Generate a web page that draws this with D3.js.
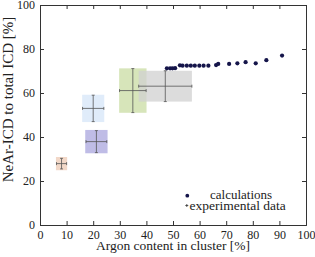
<!DOCTYPE html>
<html>
<head>
<script src="https://d3js.org/d3.v7.min.js"></script>
<style>
  body { margin: 0; background: white; }
  text { font-family: "Liberation Serif", serif; fill: #222; }
</style>
</head>
<body>
<script>
// calculations
var calcX = [47.7, 48.9, 49.8, 50.8, 52.6, 53.6, 55.2, 56.7, 58.2, 59.9, 61.5, 63.3, 66.2, 67.0, 71.1, 74.2, 77.3, 81.1, 85.1, 91.0];
var calcY = [71.2, 71.2, 71.2, 71.3, 72.6, 72.4, 72.4, 72.4, 72.4, 72.4, 72.4, 72.4, 72.7, 73.2, 73.2, 73.5, 74.0, 73.5, 74.9, 77.0];

// experimental data
var expX    = [8.1, 21.2, 20.0, 34.9, 47.1];
var expY    = [27.9, 37.9, 53.0, 61.1, 63.1];
var expXErr = [1.9, 3.9, 4.0, 5.0, 10.0];
var expYErr = [2.4, 5.0, 6.0, 10.0, 7.0];
var boxXHalf = [2.1, 4.2, 4.15, 5.15, 10.0];
var boxYHalf = [3.0, 5.3, 6.2, 10.1, 7.0];
var boxColors = ["#eecbb6", "#aaa5dd", "#d6e5f8", "#cadca3", "#d0d0d0"];

var xTicks = [0, 10, 20, 30, 40, 50, 60, 70, 80, 90, 100];
var yTicks = [0, 20, 40, 60, 80, 100];

var width = 315, height = 257;
var pLeft = 40, pRight = 306, pTop = 5, pBottom = 225;

var svg = d3.select("body").append("svg")
  .attr("width", width)
  .attr("height", height);

var x = d3.scaleLinear().domain([0, 100]).range([pLeft, pRight]);
var y = d3.scaleLinear().domain([0, 100]).range([pBottom, pTop]);

// boxes
var g = svg.append("g");
expX.forEach(function(v, i) {
  g.append("rect")
    .attr("x", x(v - boxXHalf[i]))
    .attr("y", y(expY[i] + boxYHalf[i]))
    .attr("width", x(v + boxXHalf[i]) - x(v - boxXHalf[i]))
    .attr("height", y(expY[i] - boxYHalf[i]) - y(expY[i] + boxYHalf[i]))
    .attr("fill", boxColors[i])
    .attr("fill-opacity", 0.75);
});

// error bars
var eb = svg.append("g").attr("stroke", "#555").attr("stroke-width", 0.8);
var cap = 1.5;
expX.forEach(function(v, i) {
  var cx = x(v), cy = y(expY[i]);
  var x0 = x(v - expXErr[i]), x1 = x(v + expXErr[i]);
  var y0 = y(expY[i] - expYErr[i]), y1 = y(expY[i] + expYErr[i]);
  eb.append("line").attr("x1", x0).attr("x2", x1).attr("y1", cy).attr("y2", cy);
  eb.append("line").attr("x1", cx).attr("x2", cx).attr("y1", y0).attr("y2", y1);
  eb.append("line").attr("x1", x0).attr("x2", x0).attr("y1", cy - cap).attr("y2", cy + cap);
  eb.append("line").attr("x1", x1).attr("x2", x1).attr("y1", cy - cap).attr("y2", cy + cap);
  eb.append("line").attr("x1", cx - cap).attr("x2", cx + cap).attr("y1", y0).attr("y2", y0);
  eb.append("line").attr("x1", cx - cap).attr("x2", cx + cap).attr("y1", y1).attr("y2", y1);
});

// calculation dots
svg.append("g").selectAll("circle")
  .data(calcX)
  .enter()
  .append("circle")
  .attr("cx", function(d) { return x(d); })
  .attr("cy", function(d, i) { return y(calcY[i]); })
  .attr("r", 2.1)
  .attr("fill", "#15154a");

// axes, ticks inward on all four sides
var tickLen = 4;
svg.append("g").attr("transform", "translate(0," + pBottom + ")")
  .call(d3.axisBottom(x).tickValues(xTicks).tickSize(-tickLen).tickPadding(5));
svg.append("g").attr("transform", "translate(0," + pTop + ")")
  .call(d3.axisTop(x).tickValues(xTicks).tickSize(-tickLen).tickFormat(""));
svg.append("g").attr("transform", "translate(" + pLeft + ",0)")
  .call(d3.axisLeft(y).tickValues(yTicks).tickSize(-tickLen).tickPadding(5));
svg.append("g").attr("transform", "translate(" + pRight + ",0)")
  .call(d3.axisRight(y).tickValues(yTicks).tickSize(-tickLen).tickFormat(""));

svg.selectAll(".domain").attr("stroke", "#333");
svg.selectAll(".tick line").attr("stroke", "#333");
svg.selectAll(".tick text")
  .style("font-family", "'Liberation Serif', serif")
  .style("font-size", "12px")
  .attr("fill", "#222");

// axis titles
svg.append("text")
  .attr("x", (pLeft + pRight) / 2)
  .attr("y", 250)
  .attr("text-anchor", "middle")
  .style("font-size", "13.5px")
  .text("Argon content in cluster [%]");

svg.append("text")
  .attr("transform", "translate(12.5,99.5) rotate(-90)")
  .attr("text-anchor", "middle")
  .style("font-size", "15px")
  .text("NeAr-ICD to total ICD [%]");

// legend
var lg = svg.append("g");
lg.append("circle").attr("cx", 187.3).attr("cy", 195.7).attr("r", 1.9).attr("fill", "#15154a");
lg.append("text").attr("x", 210).attr("y", 199).style("font-size", "13px").text("calculations");
lg.append("line").attr("x1", 185.3).attr("x2", 188.3).attr("y1", 205.5).attr("y2", 205.5).attr("stroke", "#333").attr("stroke-width", 0.8);
lg.append("line").attr("x1", 186.8).attr("x2", 186.8).attr("y1", 204).attr("y2", 207).attr("stroke", "#333").attr("stroke-width", 0.8);
lg.append("text").attr("x", 189.5).attr("y", 209.5).style("font-size", "13.5px").text("experimental data");
</script>
</body>
</html>
